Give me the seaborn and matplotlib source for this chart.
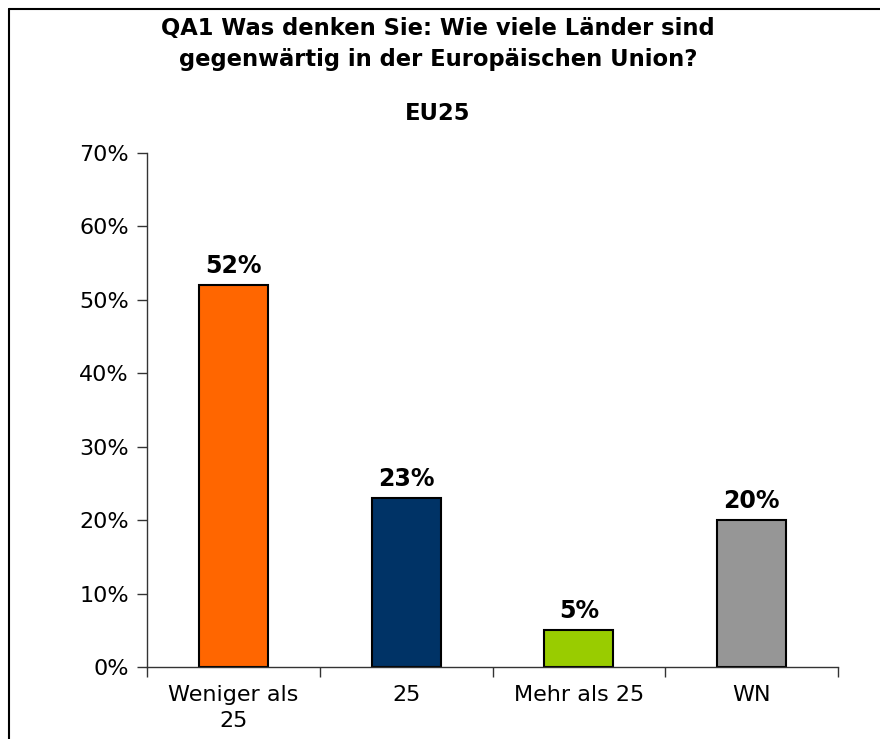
import matplotlib
matplotlib.use("Agg")
import matplotlib.pyplot as plt
import seaborn as sns
import pandas as pd
from matplotlib.lines import Line2D
from matplotlib.ticker import FixedLocator, NullFormatter

categories = ["Weniger als\n25", "25", "Mehr als 25", "WN"]
values = [52, 23, 5, 20]
colors = ["#FF6600", "#003366", "#99CC00", "#969696"]
yticks = [0, 10, 20, 30, 40, 50, 60, 70]
title = "QA1 Was denken Sie: Wie viele Länder sind\ngegenwärtig in der Europäischen Union?"
subtitle = "EU25"

sns.set_theme(style="white")
plt.rcParams["font.family"] = ["DejaVu Sans"]
plt.rcParams["text.color"] = "black"
plt.rcParams["xtick.color"] = "black"
plt.rcParams["ytick.color"] = "black"

df = pd.DataFrame({"cat": categories, "val": values})

fig = plt.figure(figsize=(8.8, 7.39), dpi=100)
ax = fig.add_axes([147/880, (739-667)/739, (838-147)/880, (667-153)/739])

sns.barplot(data=df, x="cat", y="val", hue="cat", palette=colors, legend=False,
            width=0.4, edgecolor="black", linewidth=1.5, ax=ax, saturation=1)

ax.set_xlim(-0.5, 3.5)
ax.set_ylim(0, 70)
ax.set_yticks(yticks)
ax.set_yticklabels([f"{t}%" for t in yticks], fontsize=16)
ax.set_xlabel("")
ax.set_ylabel("")
ax.tick_params(axis="x", length=0, labelsize=16, pad=13, labelcolor="black")
ax.xaxis.set_minor_locator(FixedLocator([-0.5, 0.5, 1.5, 2.5, 3.5]))
ax.xaxis.set_minor_formatter(NullFormatter())
ax.tick_params(axis="x", which="minor", bottom=True, length=7, width=1, color="#333333")
ax.tick_params(axis="y", left=True, length=7, width=1, color="#333333", labelsize=16,
               pad=6, labelcolor="black")
for lbl in ax.get_xticklabels():
    lbl.set_linespacing(1.4)

for s in ["top", "right"]:
    ax.spines[s].set_visible(False)
for s in ["left", "bottom"]:
    ax.spines[s].set_color("#333333")
    ax.spines[s].set_linewidth(1)

for i, v in enumerate(values):
    ax.annotate(f"{v}%", (i, v), xytext=(0, 7), textcoords="offset pixels",
                ha="center", va="bottom", fontsize=17, fontweight="bold", color="black")

fig.text(438/880, 1 - 44/739, title, ha="center", va="center", fontsize=16.3,
         fontweight="bold", linespacing=1.4, color="black")
fig.text(438/880, 1 - 113/739, subtitle, ha="center", va="center", fontsize=16.3,
         fontweight="bold", color="black")

fig.add_artist(Line2D([9/880, 9/880], [0, 1 - 9/739], transform=fig.transFigure,
                      color="black", linewidth=1.5))
fig.add_artist(Line2D([9/880, 1], [1 - 9/739, 1 - 9/739], transform=fig.transFigure,
                      color="black", linewidth=1.5))

fig.savefig("out.png", dpi=100)
